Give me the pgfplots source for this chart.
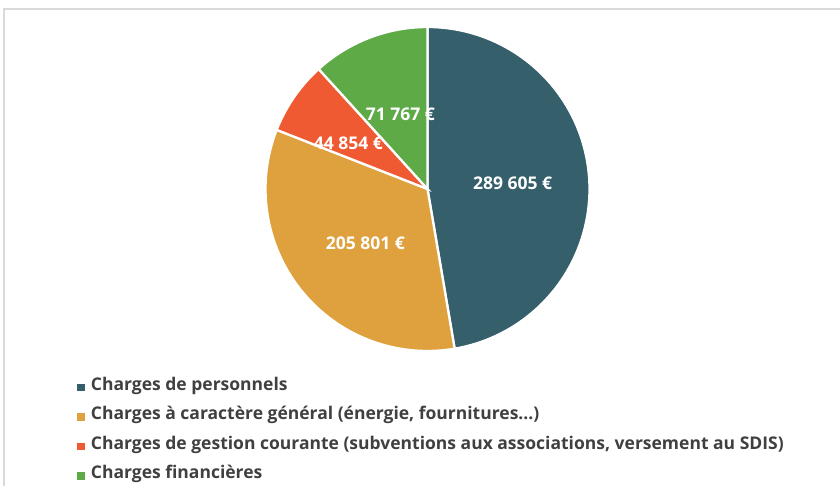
\documentclass[border=0pt]{standalone}
\usepackage{pgfplots}
\usepackage{pgfplotstable}
\pgfplotsset{compat=1.18}
\usepackage{fontspec}
\setmainfont{Open Sans}
\definecolor{cblue}{HTML}{345F6B}
\definecolor{corange}{HTML}{DFA13E}
\definecolor{cred}{HTML}{F05A32}
\definecolor{cgreen}{HTML}{5DAA46}
\definecolor{txtgray}{HTML}{404040}
\definecolor{framegray}{HTML}{D9D9D9}

\pgfplotstableread{
id value
0 289605
1 205801
2 44854
3 71767
}\piedata
\pgfplotstablegetelem{0}{value}\of\piedata \edef\va{\pgfplotsretval}
\pgfplotstablegetelem{1}{value}\of\piedata \edef\vb{\pgfplotsretval}
\pgfplotstablegetelem{2}{value}\of\piedata \edef\vc{\pgfplotsretval}
\pgfplotstablegetelem{3}{value}\of\piedata \edef\vd{\pgfplotsretval}
\edef\vtot{\fpeval{\va+\vb+\vc+\vd}}
\edef\aA{90}
\edef\aB{\fpeval{90-360*\va/\vtot}}
\edef\aC{\fpeval{90-360*(\va+\vb)/\vtot}}
\edef\aD{\fpeval{90-360*(\va+\vb+\vc)/\vtot}}
\edef\aE{-270}

\begin{document}
\begin{tikzpicture}
\useasboundingbox (0pt,0pt) rectangle (840pt,486pt);
\clip (0pt,0pt) rectangle (840pt,486pt);
\draw[framegray, line width=2pt] (4pt,-20pt) -- (4pt,477pt) -- (860pt,477pt);
\begin{axis}[
  at={(427.5pt,297pt)}, anchor=center,
  scale only axis, width=324pt, height=324pt,
  xmin=-1, xmax=1, ymin=-1, ymax=1,
  hide axis, clip=false,
  legend style={at={(axis cs:-2.182,-1.17)}, anchor=north west, draw=none, fill=none,
    font=\bfseries\fontsize{17.5}{20}\selectfont, text=txtgray, row sep=15.5pt,
    nodes={text depth=0.25em, text height=0.75em},
    /tikz/every odd column/.append style={column sep=4pt}},
  legend cell align=left,
]
\addplot[fill=cblue, draw=white, line width=2.3pt, domain=\aB:\aA, samples=90, variable=\t,
  legend image code/.code={\fill[cblue] (0pt,-2.6pt) rectangle (5.4pt,2.8pt);}]
  ({cos(\t)},{sin(\t)}) -- (axis cs:0,0) -- cycle;
\addlegendentry{Charges de personnels}
\addplot[fill=corange, draw=white, line width=2.3pt, domain=\aC:\aB, samples=70, variable=\t,
  legend image code/.code={\fill[corange] (0pt,-2.6pt) rectangle (5.4pt,2.8pt);}]
  ({cos(\t)},{sin(\t)}) -- (axis cs:0,0) -- cycle;
\addlegendentry{Charges à caractère général (énergie, fournitures...)}
\addplot[fill=cred, draw=white, line width=2.3pt, domain=\aD:\aC, samples=20, variable=\t,
  legend image code/.code={\fill[cred] (0pt,-2.6pt) rectangle (5.4pt,2.8pt);}]
  ({cos(\t)},{sin(\t)}) -- (axis cs:0,0) -- cycle;
\addlegendentry{Charges de gestion courante (subventions aux associations, versement au SDIS)}
\addplot[fill=cgreen, draw=white, line width=2.3pt, domain=\aE:\aD, samples=30, variable=\t,
  legend image code/.code={\fill[cgreen] (0pt,-2.6pt) rectangle (5.4pt,2.8pt);}]
  ({cos(\t)},{sin(\t)}) -- (axis cs:0,0) -- cycle;
\addlegendentry{Charges financières}
\node[text=white, font=\bfseries\fontsize{17.5}{19}\selectfont] at (axis cs:0.525,0.037) {289 605 €};
\node[text=white, font=\bfseries\fontsize{17.5}{19}\selectfont] at (axis cs:-0.383,-0.333) {205 801 €};
\node[text=white, font=\bfseries\fontsize{17.5}{19}\selectfont] at (axis cs:-0.488,0.284) {44 854 €};
\node[text=white, font=\bfseries\fontsize{17.5}{19}\selectfont] at (axis cs:-0.167,0.463) {71 767 €};
\end{axis}
\end{tikzpicture}
\end{document}
